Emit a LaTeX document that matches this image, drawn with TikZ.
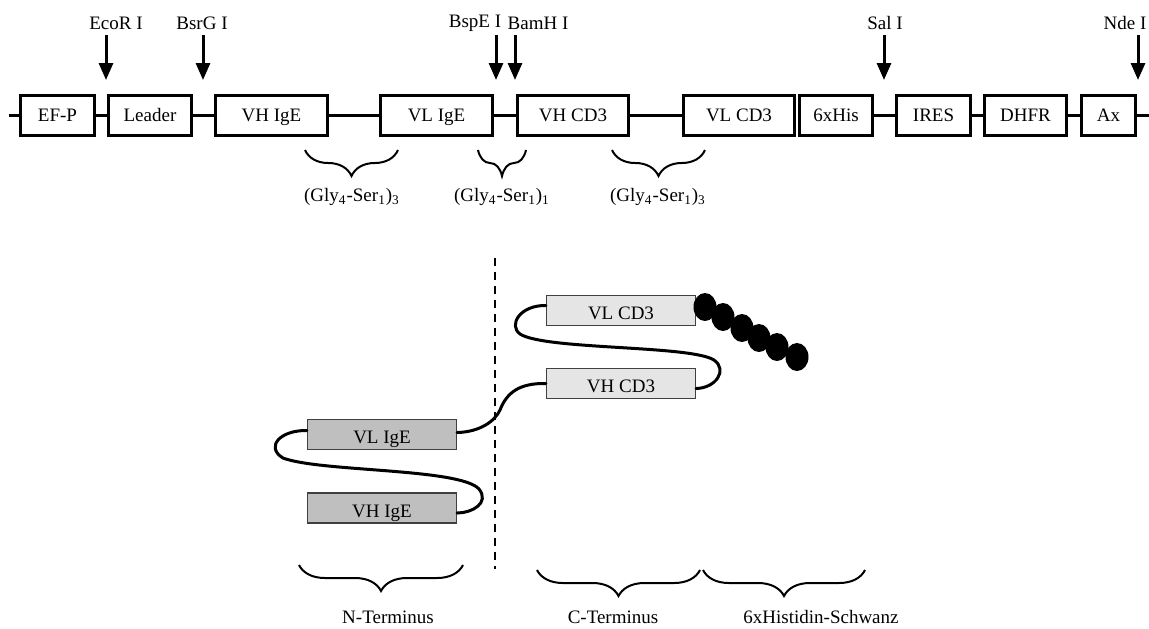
\documentclass[tikz,border=0pt]{standalone}
\usepackage{fontspec}
\setmainfont{Liberation Serif}
\usepackage{tikz}
\usetikzlibrary{arrows.meta,decorations.pathreplacing}

\begin{document}
\begin{tikzpicture}[x=0.5pt,y=-0.5pt,font=\fontsize{9.5}{11}\selectfont]
      \tikzstyle{gene}=[draw,line width=1.5pt,fill=white,minimum height=20pt,
			inner sep=0pt,text height=1.7ex,text depth=0.3ex]
      \tikzstyle{dombox}=[draw=black!75,line width=0.6pt,minimum width=74.5pt,
			  minimum height=15pt,inner sep=0pt,text height=2ex,text depth=0pt]
      \tikzstyle{site}=[inner sep=2pt]
      \tikzstyle{cutsite}=[line width=1.5pt,-{Triangle[length=8.5pt,width=7pt]}]
      \tikzstyle{linker}=[line width=1.5pt,line cap=round]
      \tikzstyle{brc}=[decorate,decoration={brace,mirror,amplitude=13pt},
		       line width=1pt]
      \useasboundingbox (0,0) rectangle (1149,628);

      % construct
      \coordinate (start) at (9,115.5);
      \coordinate (stop) at (1149,115.5);
      \node (efp)    [gene,minimum width=37pt] at (57.5,115.5)   {EF-P};
      \node (leader) [gene,minimum width=41.5pt] at (150,115.5)  {Leader};
      \node (vhige)  [gene,minimum width=56pt] at (271.5,115.5)  {VH IgE};
      \node (vlige)  [gene,minimum width=56pt] at (436.5,115.5)  {VL IgE};
      \node (vhcd3)  [gene,minimum width=55.5pt] at (573,115.5)  {VH CD3};
      \node (vlcd3)  [gene,minimum width=55.5pt] at (739,115.5)  {VL CD3};
      \node (his)    [gene,minimum width=36.5pt] at (836,115.5)  {6xHis};
      \node (ires)   [gene,minimum width=37pt] at (933.5,115.5)  {IRES};
      \node (dhfr)   [gene,minimum width=41pt] at (1025.5,115.5) {DHFR};
      \node (ax)     [gene,minimum width=27pt] at (1108.5,115.5) {Ax};
      \draw[line width=1.5pt] (start) -- (efp);
      \draw[line width=1.5pt] (efp) -- (leader);
      \draw[line width=1.5pt] (leader) -- (vhige);
      \draw[line width=1.5pt] (vhige) -- (vlige);
      \draw[line width=1.5pt] (vlige) -- (vhcd3);
      \draw[line width=1.5pt] (vhcd3) -- (vlcd3);
      \draw[line width=1.5pt] (his) -- (ires);
      \draw[line width=1.5pt] (ires) -- (dhfr);
      \draw[line width=1.5pt] (dhfr) -- (ax);
      \draw[line width=1.5pt] (ax) -- (stop);

      % restriction sites
      \node (ecor) [site] at (116,23)  {EcoR I};
      \node (bsrg) [site] at (202,23)  {BsrG I};
      \node (bspe) [site] at (475,23)  {BspE I};
      \node (bamh) [site] at (538,23)  {BamH I};
      \node (sal)  [site] at (885,23)  {Sal I};
      \node (nde)  [site] at (1125,23) {Nde I};
      \coordinate (tip1) at (106,80);
      \coordinate (tip2) at (203,80);
      \coordinate (tip3) at (496,80);
      \coordinate (tip4) at (515,80);
      \coordinate (tip5) at (884,80);
      \coordinate (tip6) at (1138,80);
      \draw[cutsite] (tip1 |- 0,35) -- (tip1);
      \draw[cutsite] (tip2 |- 0,35) -- (tip2);
      \draw[cutsite] (tip3 |- 0,35) -- (tip3);
      \draw[cutsite] (tip4 |- 0,35) -- (tip4);
      \draw[cutsite] (tip5 |- 0,35) -- (tip5);
      \draw[cutsite] (tip6 |- 0,35) -- (tip6);

      % linkers
      \draw[brc] (305,150) -- (398,150);
      \draw[brc] (478,150) -- (526,150);
      \draw[brc] (612,150) -- (705,150);
      \node (gly1) at (352,197) {(Gly\textsubscript{4}-Ser\textsubscript{1})\textsubscript{3}};
      \node (gly2) at (502,197) {(Gly\textsubscript{4}-Ser\textsubscript{1})\textsubscript{1}};
      \node (gly3) at (658,197) {(Gly\textsubscript{4}-Ser\textsubscript{1})\textsubscript{3}};

      % protein
      \node (igeL) [dombox,fill=black!25] at (382,434.5) {VL IgE};
      \node (igeH) [dombox,fill=black!25] at (382,508)   {VH IgE};
      \node (cdL)  [dombox,fill=black!10] at (621,310.5) {VL CD3};
      \node (cdH)  [dombox,fill=black!10] at (621,383.5) {VH CD3};
      \draw[linker] ([yshift=2pt]igeL.west) .. controls (280,430) and (265,447) .. (283,458)
	  .. controls (320,472) and (460,468) .. (479,489)
	  .. controls (490,503) and (472,513) .. ([yshift=-2.5pt]igeH.east);
      \draw[linker] ([yshift=1pt]igeL.east) .. controls (480,432) and (495,421) .. (500,410)
	  .. controls (507,392) and (520,383) .. (cdH.west);
      \draw[linker] ([yshift=2.5pt]cdL.west) .. controls (520,305) and (508,325) .. (520,334)
	  .. controls (545,350) and (690,345) .. (714,360)
	  .. controls (728,370) and (716,388) .. ([yshift=-2.5pt]cdH.east);
      \foreach \x/\y in {705/307,723/317,742/328,759/338,777/347,797/357}
	  \fill (\x,\y) ellipse [x radius=5.75pt,y radius=7pt];

      \coordinate (dtop) at (495,258);
      \coordinate (dbot) at (495,569);
      \draw[line width=1pt,dash pattern=on 4pt off 3pt] (dtop) -- (dbot);

      \draw[brc] (299,565) -- (463,565);
      \draw[brc] (537,570) -- (700,570);
      \draw[brc] (703,570) -- (865,570);
      \node (nterm) at (388,617) {N-Terminus};
      \node (cterm) at (613,617) {C-Terminus};
      \node (tail)  at (821,617) {6xHistidin-Schwanz};
\end{tikzpicture}
\end{document}
